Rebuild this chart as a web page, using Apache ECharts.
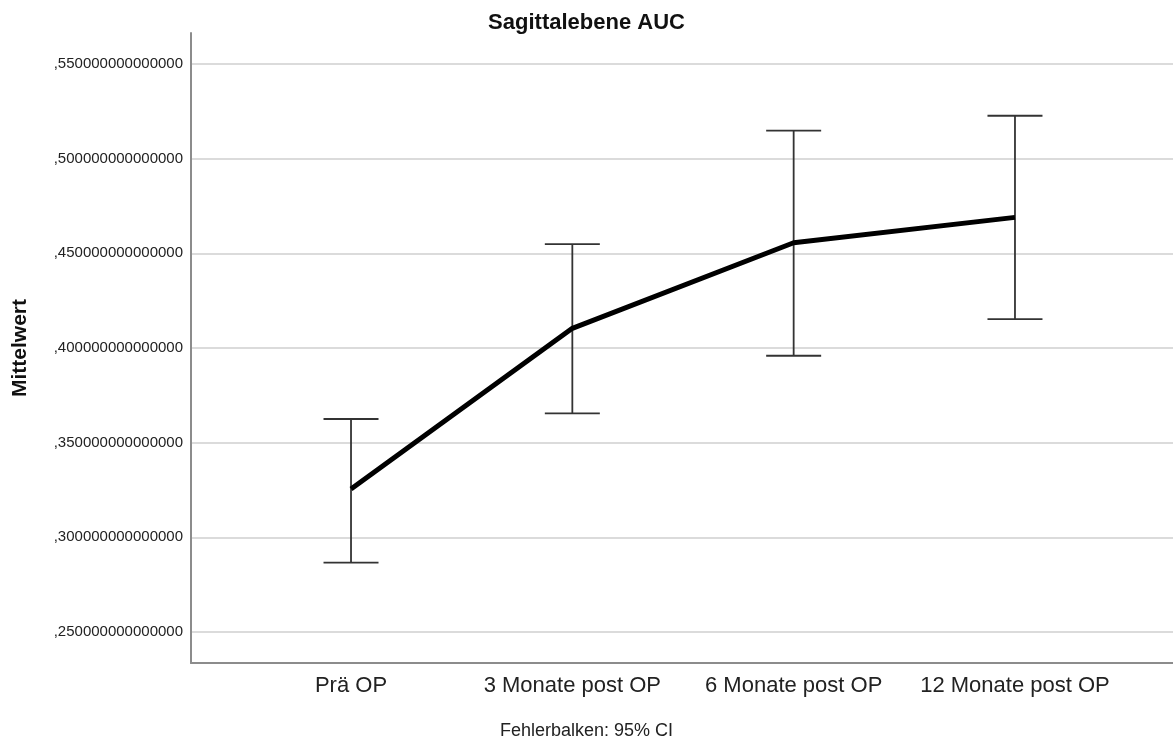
<!DOCTYPE html>
<html>
<head>
<meta charset="utf-8">
<script src="https://cdn.jsdelivr.net/npm/echarts@6/dist/echarts.min.js"></script>
<style>
html,body{margin:0;padding:0;background:#fff;}
#chart{width:1173px;height:740px;}
</style>
</head>
<body>
<div id="chart"></div>
<script>
const categories = ['Prä OP', '3 Monate post OP', '6 Monate post OP', '12 Monate post OP'];
const means = [0.3255, 0.4104, 0.4556, 0.4690];
const lower = [0.2866, 0.3655, 0.3959, 0.4153];
const upper = [0.3625, 0.4549, 0.5148, 0.5227];
const yTicks = [0.25, 0.30, 0.35, 0.40, 0.45, 0.50, 0.55];
const xPositions = [0, 1, 2, 3];

const FONT = '"Liberation Sans", Arial, sans-serif';

const chart = echarts.init(document.getElementById('chart'), null, {renderer: 'canvas'});

const lineData = xPositions.map((x, i) => [x, means[i]]);
const errData = xPositions.map((x, i) => [x, lower[i], upper[i]]);

chart.setOption({
  animation: false,
  backgroundColor: '#ffffff',
  title: [
    {
      text: 'Sagittalebene AUC',
      left: 'center',
      top: 7,
      textStyle: {fontFamily: FONT, fontSize: 22, fontWeight: 'bold', color: '#111'}
    },
    {
      text: 'Fehlerbalken: 95% CI',
      left: 'center',
      top: 717,
      textStyle: {fontFamily: FONT, fontSize: 18, fontWeight: 'normal', color: '#222'}
    }
  ],
  grid: {left: 191, top: 33, right: 0, bottom: 77},
  xAxis: {
    type: 'value',
    min: -0.723,
    max: 3.714,
    axisLine: {show: true, onZero: false, lineStyle: {color: '#8c8c8c', width: 2}},
    axisTick: {show: false, customValues: xPositions},
    splitLine: {show: false},
    axisLabel: {
      customValues: xPositions,
      formatter: v => categories[Math.round(v)],
      fontFamily: FONT, fontSize: 22, color: '#222', margin: 12
    }
  },
  yAxis: {
    type: 'value',
    min: 0.2336,
    max: 0.5664,
    name: 'Mittelwert',
    nameLocation: 'middle',
    nameGap: 160,
    nameTextStyle: {fontFamily: FONT, fontSize: 21, fontWeight: 'bold', color: '#111'},
    axisLine: {show: true, onZero: false, lineStyle: {color: '#8c8c8c', width: 2}},
    axisTick: {show: false, customValues: yTicks},
    splitLine: {show: true, lineStyle: {color: '#cfcfcf', width: 1.5}},
    axisLabel: {
      customValues: yTicks,
      formatter: v => ',' + v.toFixed(15).split('.')[1],
      fontFamily: FONT, fontSize: 15, color: '#222', margin: 8
    }
  },
  series: [
    {
      type: 'custom',
      data: errData,
      z: 2,
      renderItem: function (params, api) {
        const x = api.value(0);
        const lo = api.coord([x, api.value(1)]);
        const hi = api.coord([x, api.value(2)]);
        const hw = 27.5;
        const style = {stroke: '#333', lineWidth: 1.8};
        return {
          type: 'group',
          children: [
            {type: 'line', shape: {x1: lo[0], y1: lo[1], x2: hi[0], y2: hi[1]}, style: style},
            {type: 'line', shape: {x1: hi[0] - hw, y1: hi[1], x2: hi[0] + hw, y2: hi[1]}, style: style},
            {type: 'line', shape: {x1: lo[0] - hw, y1: lo[1], x2: lo[0] + hw, y2: lo[1]}, style: style}
          ]
        };
      }
    },
    {
      type: 'line',
      data: lineData,
      z: 3,
      symbol: 'none',
      lineStyle: {color: '#000', width: 5},
      itemStyle: {color: '#000'}
    }
  ]
});
</script>
</body>
</html>
